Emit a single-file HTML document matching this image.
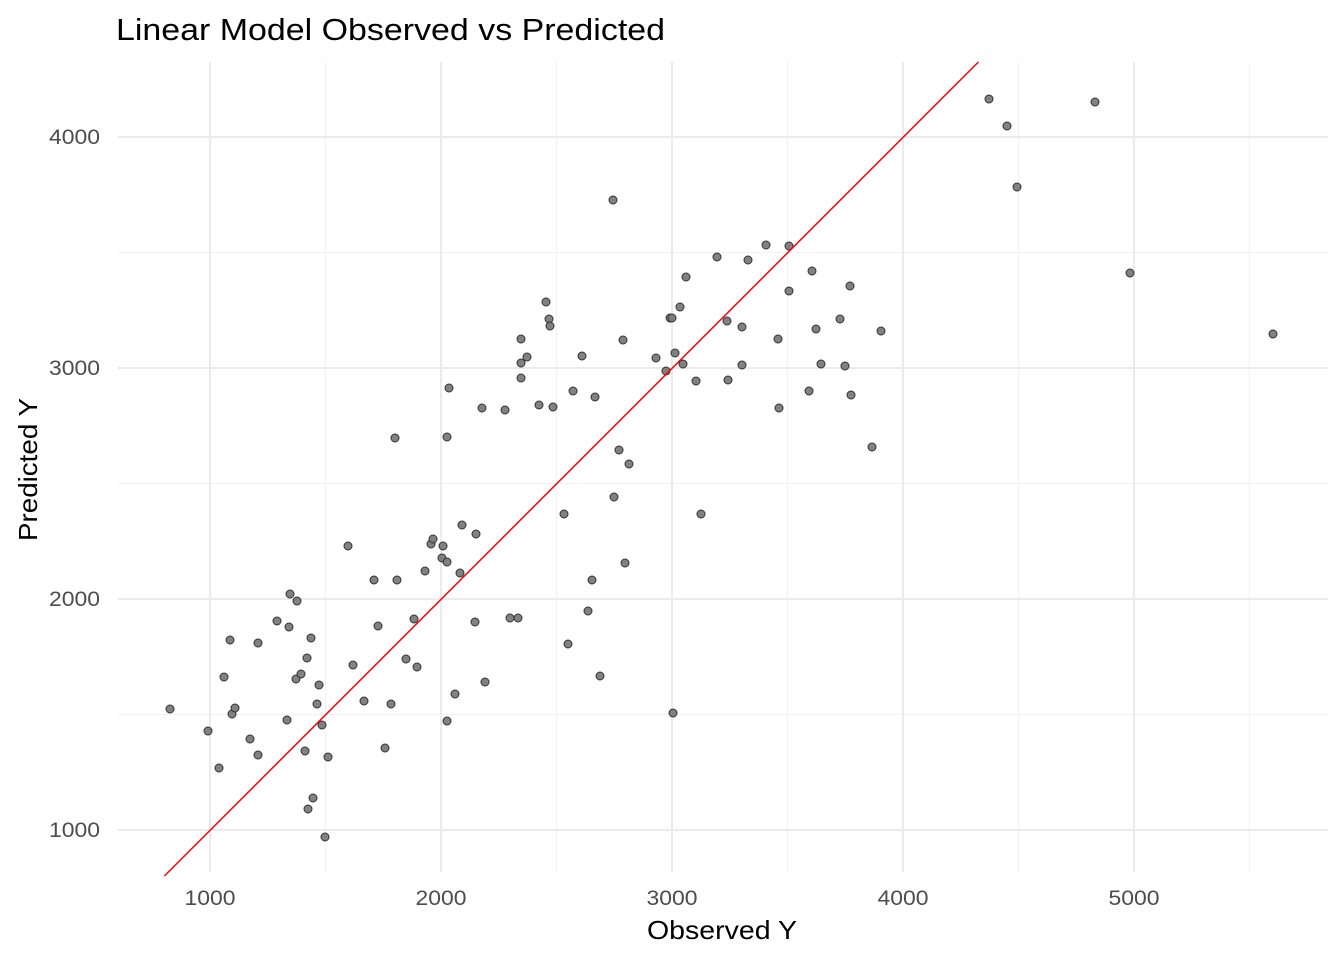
<!DOCTYPE html>
<html><head><meta charset="utf-8"><style>body{margin:0;background:#fff}svg{display:block;font-family:"Liberation Sans",Arial,sans-serif}</style></head><body>
<svg width="1344" height="960" xmlns="http://www.w3.org/2000/svg">
<rect width="1344" height="960" fill="#fff"/>
<g stroke="#f2f2f2" stroke-width="1.1">
<line x1="325.5" y1="62" x2="325.5" y2="872"/><line x1="556.5" y1="62" x2="556.5" y2="872"/><line x1="787.5" y1="62" x2="787.5" y2="872"/><line x1="1018.5" y1="62" x2="1018.5" y2="872"/><line x1="1249.5" y1="62" x2="1249.5" y2="872"/>
<line x1="118" y1="714.5" x2="1328" y2="714.5"/><line x1="118" y1="483.5" x2="1328" y2="483.5"/><line x1="118" y1="252.5" x2="1328" y2="252.5"/>
</g>
<g stroke="#ebebeb" stroke-width="2">
<line x1="210" y1="62" x2="210" y2="872"/><line x1="441" y1="62" x2="441" y2="872"/><line x1="672" y1="62" x2="672" y2="872"/><line x1="903" y1="62" x2="903" y2="872"/><line x1="1134" y1="62" x2="1134" y2="872"/>
<line x1="118" y1="830" x2="1328" y2="830"/><line x1="118" y1="599" x2="1328" y2="599"/><line x1="118" y1="368" x2="1328" y2="368"/><line x1="118" y1="137" x2="1328" y2="137"/>
</g>
<g fill="#7a7a7a" fill-opacity="0.95" stroke="#333" stroke-width="1">
<circle cx="170" cy="709" r="4"/><circle cx="208" cy="731" r="4"/><circle cx="219" cy="768" r="4"/><circle cx="224" cy="677" r="4"/><circle cx="230" cy="640" r="4"/><circle cx="232" cy="714" r="4"/><circle cx="235" cy="708" r="4"/><circle cx="250" cy="739" r="4"/><circle cx="258" cy="643" r="4"/><circle cx="258" cy="755" r="4"/><circle cx="277" cy="621" r="4"/><circle cx="287" cy="720" r="4"/><circle cx="290" cy="594" r="4"/><circle cx="289" cy="627" r="4"/><circle cx="297" cy="601" r="4"/><circle cx="296" cy="679" r="4"/><circle cx="301" cy="674" r="4"/><circle cx="305" cy="751" r="4"/><circle cx="307" cy="658" r="4"/><circle cx="308" cy="809" r="4"/><circle cx="311" cy="638" r="4"/><circle cx="313" cy="798" r="4"/><circle cx="317" cy="704" r="4"/><circle cx="319" cy="685" r="4"/><circle cx="322" cy="725" r="4"/><circle cx="325" cy="837" r="4"/><circle cx="328" cy="757" r="4"/><circle cx="348" cy="546" r="4"/><circle cx="353" cy="665" r="4"/><circle cx="364" cy="701" r="4"/><circle cx="374" cy="580" r="4"/><circle cx="378" cy="626" r="4"/><circle cx="385" cy="748" r="4"/><circle cx="391" cy="704" r="4"/><circle cx="395" cy="438" r="4"/><circle cx="397" cy="580" r="4"/><circle cx="406" cy="659" r="4"/><circle cx="414" cy="619" r="4"/><circle cx="417" cy="667" r="4"/><circle cx="425" cy="571" r="4"/><circle cx="431" cy="544" r="4"/><circle cx="433" cy="539" r="4"/><circle cx="443" cy="546" r="4"/><circle cx="442" cy="558" r="4"/><circle cx="447" cy="562" r="4"/><circle cx="447" cy="721" r="4"/><circle cx="447" cy="437" r="4"/><circle cx="449" cy="388" r="4"/><circle cx="455" cy="694" r="4"/><circle cx="460" cy="573" r="4"/><circle cx="462" cy="525" r="4"/><circle cx="475" cy="622" r="4"/><circle cx="476" cy="534" r="4"/><circle cx="482" cy="408" r="4"/><circle cx="485" cy="682" r="4"/><circle cx="505" cy="410" r="4"/><circle cx="510" cy="618" r="4"/><circle cx="518" cy="618" r="4"/><circle cx="521" cy="339" r="4"/><circle cx="521" cy="378" r="4"/><circle cx="521" cy="363" r="4"/><circle cx="527" cy="357" r="4"/><circle cx="539" cy="405" r="4"/><circle cx="546" cy="302" r="4"/><circle cx="549" cy="319" r="4"/><circle cx="550" cy="326" r="4"/><circle cx="553" cy="407" r="4"/><circle cx="564" cy="514" r="4"/><circle cx="568" cy="644" r="4"/><circle cx="573" cy="391" r="4"/><circle cx="582" cy="356" r="4"/><circle cx="588" cy="611" r="4"/><circle cx="592" cy="580" r="4"/><circle cx="595" cy="397" r="4"/><circle cx="600" cy="676" r="4"/><circle cx="613" cy="200" r="4"/><circle cx="614" cy="497" r="4"/><circle cx="619" cy="450" r="4"/><circle cx="623" cy="340" r="4"/><circle cx="625" cy="563" r="4"/><circle cx="629" cy="464" r="4"/><circle cx="656" cy="358" r="4"/><circle cx="666" cy="371" r="4"/><circle cx="670" cy="318" r="4"/><circle cx="672" cy="318" r="4"/><circle cx="673" cy="713" r="4"/><circle cx="675" cy="353" r="4"/><circle cx="680" cy="307" r="4"/><circle cx="683" cy="364" r="4"/><circle cx="686" cy="277" r="4"/><circle cx="696" cy="381" r="4"/><circle cx="701" cy="514" r="4"/><circle cx="717" cy="257" r="4"/><circle cx="727" cy="321" r="4"/><circle cx="728" cy="380" r="4"/><circle cx="742" cy="327" r="4"/><circle cx="742" cy="365" r="4"/><circle cx="748" cy="260" r="4"/><circle cx="766" cy="245" r="4"/><circle cx="778" cy="339" r="4"/><circle cx="779" cy="408" r="4"/><circle cx="789" cy="246" r="4"/><circle cx="789" cy="291" r="4"/><circle cx="809" cy="391" r="4"/><circle cx="812" cy="271" r="4"/><circle cx="816" cy="329" r="4"/><circle cx="821" cy="364" r="4"/><circle cx="840" cy="319" r="4"/><circle cx="845" cy="366" r="4"/><circle cx="850" cy="286" r="4"/><circle cx="851" cy="395" r="4"/><circle cx="872" cy="447" r="4"/><circle cx="881" cy="331" r="4"/><circle cx="989" cy="99" r="4"/><circle cx="1007" cy="126" r="4"/><circle cx="1017" cy="187" r="4"/><circle cx="1095" cy="102" r="4"/><circle cx="1130" cy="273" r="4"/><circle cx="1273" cy="334" r="4"/>
</g>
<line x1="164.4" y1="876" x2="978.4" y2="62" stroke="#ff0000" stroke-width="1.5"/>
<g fill="#4d4d4d" font-size="21" text-anchor="middle">
<text x="210" y="905" textLength="51" lengthAdjust="spacingAndGlyphs">1000</text><text x="441" y="905" textLength="51" lengthAdjust="spacingAndGlyphs">2000</text><text x="672" y="905" textLength="51" lengthAdjust="spacingAndGlyphs">3000</text><text x="903" y="905" textLength="51" lengthAdjust="spacingAndGlyphs">4000</text><text x="1134" y="905" textLength="51" lengthAdjust="spacingAndGlyphs">5000</text>
</g>
<g fill="#4d4d4d" font-size="21">
<text x="49" y="837" textLength="51" lengthAdjust="spacingAndGlyphs">1000</text><text x="49" y="606" textLength="51" lengthAdjust="spacingAndGlyphs">2000</text><text x="49" y="375" textLength="51" lengthAdjust="spacingAndGlyphs">3000</text><text x="49" y="144" textLength="51" lengthAdjust="spacingAndGlyphs">4000</text>
</g>
<text x="647" y="939" font-size="26" fill="#000" textLength="150" lengthAdjust="spacingAndGlyphs">Observed Y</text>
<text transform="translate(37,541) rotate(-90)" font-size="26" fill="#000" textLength="143" lengthAdjust="spacingAndGlyphs">Predicted Y</text>
<text x="116" y="40" font-size="31" fill="#000" textLength="549" lengthAdjust="spacingAndGlyphs">Linear Model Observed vs Predicted</text>
</svg>
</body></html>
